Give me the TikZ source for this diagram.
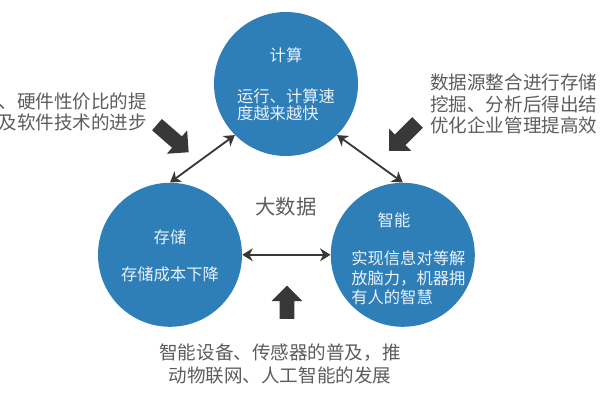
\documentclass[tikz,border=0pt]{standalone}
\usepackage{fontspec}
\usepackage{xcolor}
\usepackage{tikz}
\usetikzlibrary{arrows.meta}
\usetikzlibrary{positioning}
\usetikzlibrary{shapes.arrows}
\newfontfamily\cjk{Noto Sans CJK SC}
\definecolor{bdblue}{HTML}{2E7EB8}
\definecolor{bdtext}{HTML}{EAF2FA}
\definecolor{bdgray}{HTML}{5C5C5C}
\definecolor{bddark}{HTML}{383838}

\begin{document}
\begin{tikzpicture}[on grid,
	>={Stealth[width=3.2mm,length=2.6mm,inset=0.8mm]},
    field/.style = {circle, fill=bdblue, minimum size=3.6cm, inner sep=0pt},
    ftitle/.style = {text=bdtext, inner sep=0pt,
                     font=\cjk\fontsize{11.6}{12.5}\selectfont},
    fbody/.style = {ftitle, align=left},
    core/.style = {text=bdgray, font=\cjk\fontsize{14.5}{16}\selectfont},
    driver/.style = {text=bdgray, inner sep=0pt,
                     font=\cjk\fontsize{13.2}{15}\selectfont},
    push/.style = {single arrow, fill=bddark, inner xsep=0pt, inner ysep=0.18cm,
                   single arrow head extend=0.2cm, single arrow head indent=0pt,
                   minimum height=1cm}]
  \useasboundingbox (0,0) rectangle (15,-10);

  \node (calc) [field] at (7.15,-2.1) {};
  \node (store) [field, below left=4.27cm and 2.9cm of calc] {};
  \node (smart) [field, right=5.82cm of store] {};

  \node (calctitle) [ftitle, above=0.73cm of calc] {计算};
  \node (calcbody) [fbody, below=0.52cm of calc] {运行、计算速\\度越来越快};
  \node (storetitle) [ftitle, above=0.45cm of store] {存储};
  \node (storebody) [fbody, below=0.5cm of store] {存储成本下降};
  \node (smarttitle) [ftitle, above left=0.875cm and 0.22cm of smart] {智能};
  \node (smartbody) [fbody, below right=0.58cm and 0.14cm of smart,
                     font=\cjk\fontsize{11.6}{14}\selectfont]
                    {实现信息对等解\\放脑力，机器拥\\有人的智慧};

  \node (bigdata) [core, below=3.07cm of calc] {大数据};

  \node (hw) [driver, anchor=east, align=right, at={(3.68,-2.8)}]
             {、硬件性价比的提\\及软件技术的进步};
  \node (source) [driver, anchor=west, align=left, at={(10.75,-2.6)},
                  font=\cjk\fontsize{13.2}{15.5}\selectfont]
                 {数据源整合进行存储\\挖掘、分析后得出结\\优化企业管理提高效};
  \node (iot) [driver, align=center, at={(7.0,-9.09)},
               font=\cjk\fontsize{13.2}{16.4}\selectfont]
              {智能设备、传感器的普及，推\\动物联网、人工智能的发展};

  \node (pushhw) [push, rotate=-41, minimum height=1.05cm] at (4.25,-3.4) {};
  \node (pushsource) [push, rotate=-135, minimum height=1.0cm] at (10.15,-3.35) {};
  \node (pushiot) [push, rotate=90, minimum height=0.83cm] at (7.175,-7.65) {};

  \path[<->,line width=1.3pt,color=bddark]
    (store.north) edge (calc.-135)
    (calc.-45) edge (smart.north)
    (store.east) edge (smart.west);
\end{tikzpicture}
\end{document}
